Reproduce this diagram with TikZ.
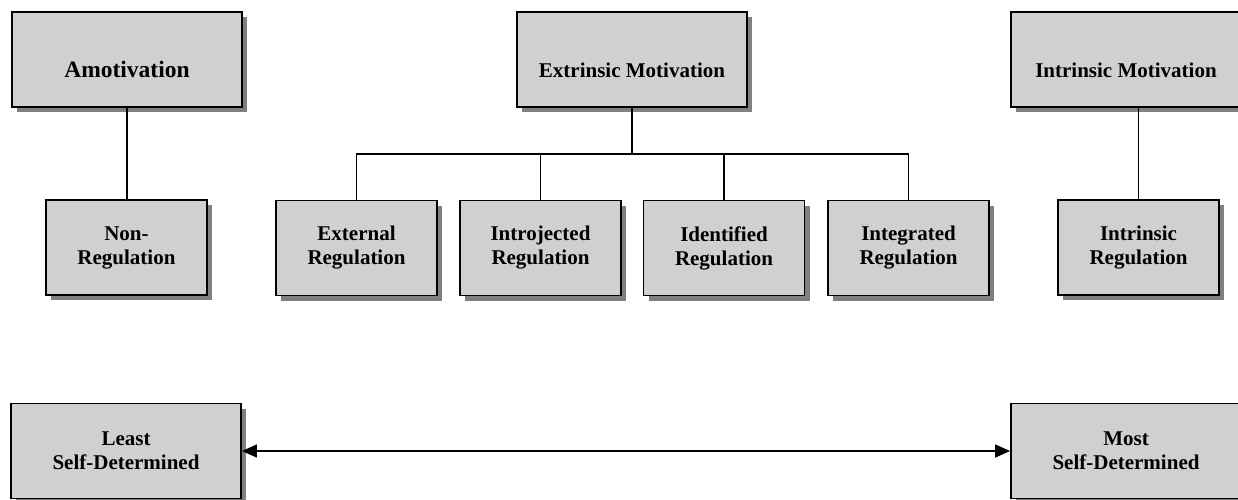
\documentclass[tikz,border=0pt]{standalone}
\usepackage{fontspec}
\setmainfont{Liberation Serif}
\usetikzlibrary{shadows,arrows.meta}

\definecolor{boxgray}{RGB}{208,208,208}
\definecolor{shadowgray}{RGB}{128,128,128}

\begin{document}
\begin{tikzpicture}[x=1pt, y=-1pt]
		\tikzstyle{motive}=[rectangle,draw,line width=1.8pt,fill=boxgray,minimum width=230pt,minimum height=95pt,align=center,font=\bfseries\fontsize{21}{24}\selectfont,drop shadow={shadow xshift=5pt,shadow yshift=-5pt,fill=shadowgray,opacity=1}]
		\tikzstyle{topbox}=[motive,text height=36pt,text depth=0pt]
		\tikzstyle{regbox}=[motive,minimum width=161pt]
		\tikzstyle{link}=[line width=1.3pt]
		\useasboundingbox (0,0) rectangle (1238,500);
		
		\node[topbox,font=\bfseries\fontsize{23.5}{27}\selectfont](amot) at (127,59.5){Amotivation};
		\node[topbox](extr) at (632,59.5){Extrinsic Motivation};
		\node[topbox](intr) at (1126,59.5){Intrinsic Motivation};
		
		\node[regbox](nonreg) at (126.5,247.5){Non-\\Regulation};
		\foreach \n/\x/\t in {ext/356.5/External,intro/540.5/Introjected,ident/724/Identified,integ/908.5/Integrated}
		\node[regbox](\n) at (\x,248){\t\\Regulation};
		\node[regbox](intreg) at (1138.5,247.5){Intrinsic\\Regulation};
		
		\node[motive](least) at (126,451){Least\\Self-Determined};
		\node[motive](most) at (1126,451){Most\\Self-Determined};
		
		\coordinate (bar) at (632,154);
		\draw[link] (amot.south) -- (amot.south |- nonreg.north);
		\draw[link] (intreg.north) -- (intreg.north |- intr.south);
		\draw[link] (extr.south) -- (bar);
		\draw[link] (ext.north) -- (ext.north |- bar) -- (integ.north |- bar) -- (integ.north);
		\foreach \n in {intro,ident}
		\draw[link] (\n.north) -- (\n.north |- bar);
		
		\draw[link,{Triangle[length=15pt,width=13pt]}-{Triangle[length=15pt,width=13pt]}] (least) -- (most);
\end{tikzpicture}
\end{document}
